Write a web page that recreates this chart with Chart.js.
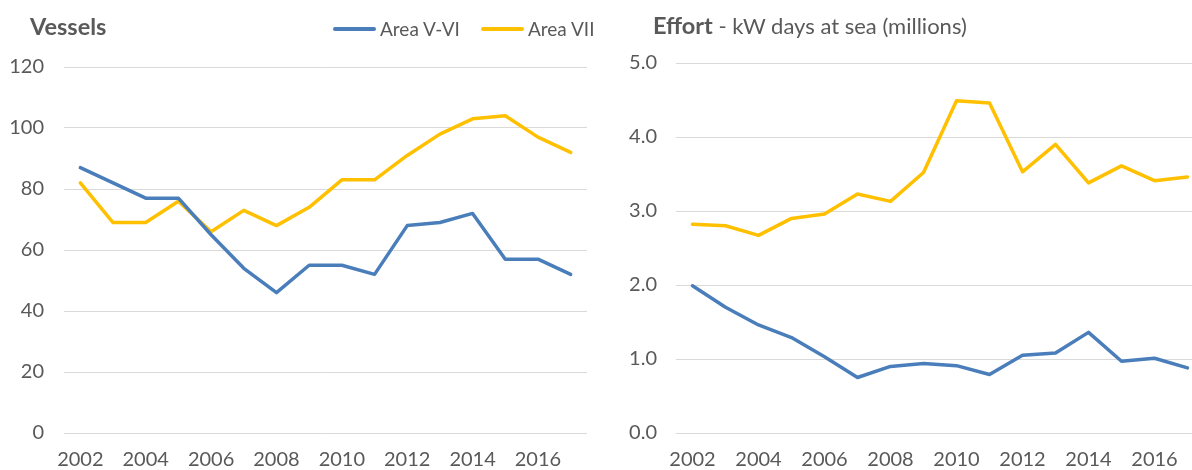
<!DOCTYPE html>
<html>
<head>
<meta charset="utf-8">
<script src="https://cdn.jsdelivr.net/npm/chart.js@4/dist/chart.umd.min.js"></script>
<style>
  html, body { margin:0; padding:0; background:#fff; }
  body { width:1192px; height:470px; position:relative; overflow:hidden; font-family: Lato, "Open Sans", sans-serif; color:#595959; }
  .box { position:absolute; top:0; height:470px; }
  #left { left:0; width:600px; }
  #right { left:600px; width:620px; }
  .title { position:absolute; font-size:23.5px; line-height:28px; white-space:nowrap; }
  .title b { font-weight:700; }
  .title span { font-weight:400; font-size:22px; }
  #legend { position:absolute; left:333px; top:16px; display:flex; align-items:center; font-size:19px; line-height:26px; white-space:nowrap; }
  #legend .item { display:flex; align-items:center; margin-right:21px; }
  #legend .sw { width:43px; height:4px; border-radius:2px; margin-right:4px; }
</style>
</head>
<body>
<div class="box" id="left"><canvas id="c1" width="600" height="470"></canvas></div>
<div class="box" id="right"><canvas id="c2" width="620" height="470"></canvas></div>
<div class="title" style="left:30px;top:12px;"><b>Vessels</b></div>
<div class="title" style="left:653px;top:11px;"><b>Effort</b><span> - kW days at sea (millions)</span></div>
<div id="legend"></div>
<script>
const years = ['2002','2003','2004','2005','2006','2007','2008','2009','2010','2011','2012','2013','2014','2015','2016','2017'];
const seriesNames = ['Area V-VI', 'Area VII'];
const vesselsV_VI = [87,82,77,77,65,54,46,55,55,52,68,69,72,57,57,52];
const vesselsVII  = [82,69,69,76,66,73,68,74,83,83,91,98,103,104,97,92];
const effortV_VI  = [1.99,1.70,1.46,1.29,1.03,0.75,0.90,0.94,0.91,0.79,1.05,1.08,1.36,0.97,1.01,0.88];
const effortVII   = [2.82,2.80,2.67,2.90,2.96,3.23,3.13,3.52,4.49,4.46,3.53,3.90,3.38,3.61,3.41,3.46];
const vesselTicks = [0,20,40,60,80,100,120];
const effortTicks = [0,1,2,3,4,5];

const BLUE = '#4a7ebb', GOLD = '#ffc000', TXT = '#595959', GRID = '#d9d9d9';
const FONT = 'Lato, "Open Sans", sans-serif';

function ds(label, data, color) {
  return { label, data, borderColor: color, backgroundColor: color, borderWidth: 3.5,
    pointRadius: 0, pointHoverRadius: 0, tension: 0, borderCapStyle: 'round', borderJoinStyle: 'round', fill: false };
}

function makeChart(id, a, b, tickVals, fmt, yW, pad, tickPad) {
  return new Chart(document.getElementById(id), {
    type: 'line',
    data: { labels: years, datasets: [ds(seriesNames[0], a, BLUE), ds(seriesNames[1], b, GOLD)] },
    options: {
      responsive: false, animation: false, devicePixelRatio: 1,
      layout: { padding: pad },
      plugins: { legend: { display: false }, tooltip: { enabled: false } },
      scales: {
        x: {
          type: 'category', offset: true,
          grid: { display: false, drawTicks: false },
          border: { display: false },
          ticks: { autoSkip: false, maxRotation: 0, color: TXT, font: { family: FONT, size: 20 }, padding: 15,
                   callback: function(v, i) { return i % 2 === 0 ? this.getLabelForValue(v) : ''; } },
          afterFit: s => { s.height = 37; }
        },
        y: {
          min: tickVals[0], max: tickVals[tickVals.length-1],
          afterBuildTicks: s => { s.ticks = tickVals.map(v => ({ value: v })); },
          grid: { color: GRID, lineWidth: 1, drawTicks: false },
          border: { display: false },
          ticks: { color: TXT, font: { family: FONT, size: 20 }, padding: tickPad, callback: fmt },
          afterFit: s => { s.width = yW; }
        }
      }
    }
  });
}

makeChart('c1', vesselsV_VI, vesselsVII, vesselTicks, v => String(v), 64, { left: 0, right: 13, top: 67, bottom: 0 }, 20);
makeChart('c2', effortV_VI, effortVII, effortTicks, v => Number(v).toFixed(1), 76, { left: 0, right: 16, top: 63, bottom: 0 }, 19);

const lg = document.getElementById('legend');
[[seriesNames[0], BLUE], [seriesNames[1], GOLD]].forEach(([n, c]) => {
  const it = document.createElement('div'); it.className = 'item';
  const sw = document.createElement('div'); sw.className = 'sw'; sw.style.background = c;
  const t = document.createElement('span'); t.textContent = n;
  it.appendChild(sw); it.appendChild(t); lg.appendChild(it);
});
</script>
</body>
</html>
